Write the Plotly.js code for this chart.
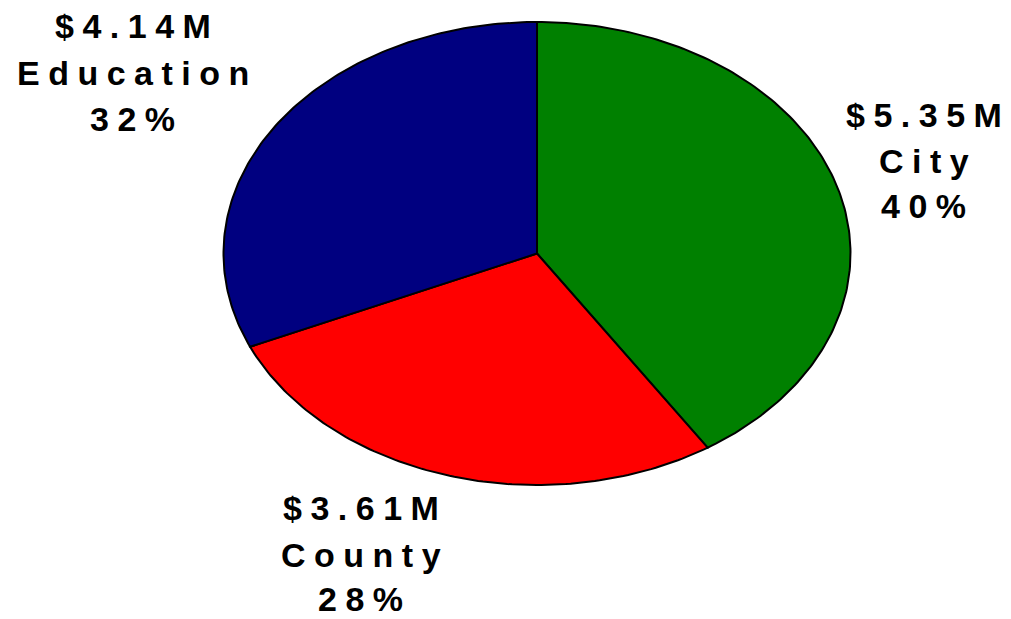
<!DOCTYPE html>
<html>
<head>
<meta charset="utf-8">
<script src="https://cdn.plot.ly/plotly-3.0.1.min.js"></script>
<style>
html,body{margin:0;padding:0;background:#fff;}
#chart{width:1011px;height:619px;}
.annotation-text{letter-spacing:8.5px;}
</style>
</head>
<body>
<div id="chart"></div>
<script>
// Data
const categories = ["City", "County", "Education"];
const amounts = [5.35, 3.61, 4.14];          // $ millions
const amountLabels = ["$5.35M", "$3.61M", "$4.14M"];
const percentLabels = ["40%", "28%", "32%"];
const colors = ["#008000", "#FF0000", "#000080"];

// Layout geometry (pixel-like data space)
const W = 1011, H = 619;
const cx = 537, cy = 253.5, rx = 313.5, ry = 231.5;
const labelPos = [
  {x: 928, y: [127, 173, 218]},
  {x: 365, y: [520, 567, 611]},
  {x: 137, y: [38, 85, 131]}
];

const total = amounts.reduce((a, b) => a + b, 0);
const traces = [];
let start = 0;
amounts.forEach((v, i) => {
  const frac = v / total;
  const a0 = start * 2 * Math.PI, a1 = (start + frac) * 2 * Math.PI;
  const n = Math.max(2, Math.ceil(frac * 400));
  const xs = [cx], ys = [cy];
  for (let k = 0; k <= n; k++) {
    const t = a0 + (a1 - a0) * k / n;
    xs.push(cx + rx * Math.sin(t));
    ys.push(cy - ry * Math.cos(t));
  }
  xs.push(cx); ys.push(cy);
  traces.push({
    type: "scatter", mode: "lines", x: xs, y: ys, fill: "toself",
    fillcolor: colors[i], line: {color: "#000", width: 2},
    name: categories[i], hoverinfo: "name", showlegend: false
  });
  start += frac;
});

const annotations = [];
categories.forEach((c, i) => {
  const lines = [amountLabels[i], c, percentLabels[i]];
  lines.forEach((t, j) => {
    annotations.push({
      x: labelPos[i].x, y: labelPos[i].y[j] - 12, xref: "x", yref: "y",
      text: "<b>" + t + "</b>", showarrow: false, xanchor: "center", yanchor: "middle",
      font: {family: "Liberation Sans, Arial, sans-serif", size: 34, color: "#000"}
    });
  });
});

const layout = {
  width: W, height: H,
  margin: {l: 0, r: 0, t: 0, b: 0},
  paper_bgcolor: "#fff", plot_bgcolor: "#fff",
  xaxis: {range: [0, W], visible: false, fixedrange: true},
  yaxis: {range: [H, 0], visible: false, fixedrange: true},
  annotations: annotations,
  showlegend: false
};

Plotly.newPlot("chart", traces, layout, {displayModeBar: false, staticPlot: true});
</script>
</body>
</html>
